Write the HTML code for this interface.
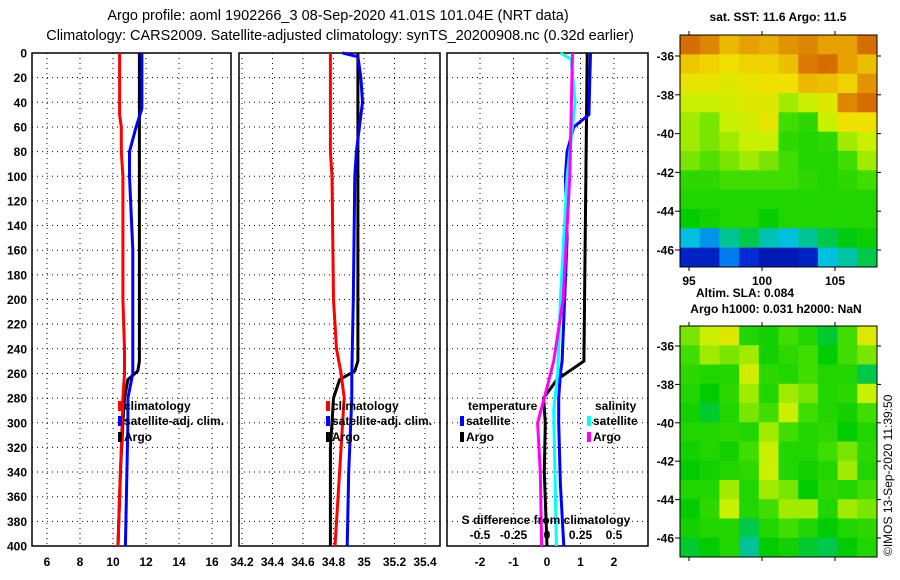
<!DOCTYPE html>
<html><head><meta charset="utf-8"><style>
body{margin:0;background:#fff;width:900px;height:580px;overflow:hidden}
svg{display:block;font-family:"Liberation Sans",sans-serif;font-weight:bold}
</style></head><body>
<svg id="chart" width="900" height="580" viewBox="0 0 900 580">
<text x="338" y="20" font-size="14.5" text-anchor="middle" font-weight="normal">Argo profile: aoml 1902266_3 08-Sep-2020 41.01S 101.04E (NRT data)</text>
<text x="340" y="40" font-size="14.5" text-anchor="middle" font-weight="normal">Climatology: CARS2009. Satellite-adjusted climatology: synTS_20200908.nc (0.32d earlier)</text>
<text x="778" y="21" font-size="12" text-anchor="middle">sat. SST: 11.6 Argo: 11.5</text>
<text x="745" y="297" font-size="12" text-anchor="middle">Altim. SLA: 0.084</text>
<text x="776" y="313" font-size="12" text-anchor="middle">Argo h1000: 0.031 h2000: NaN</text>
<text transform="translate(892,556) rotate(-90)" font-size="12" font-weight="normal">©IMOS 13-Sep-2020 11:39:50</text>
<g id="g"></g>
</svg>
<script>
// ---- data ----
const depthTicks=[0,20,40,60,80,100,120,140,160,180,200,220,240,260,280,300,320,340,360,380,400];
const tTicks=[6,8,10,12,14,16];
const sTicks=[34.2,34.4,34.6,34.8,35,35.2,35.4];
const dTicks=[-2,-1,0,1,2];
const dsTicks=[-0.5,-0.25,0,0.25,0.5];
const dsTickLabels=["-0.5","-0.25","0","0.25","0.5"];
const tClimDepth=[0,50,60,80,100,200,240,260,280,320,360,400];
const tClim=[10.4,10.4,10.5,10.5,10.6,10.6,10.7,10.7,10.6,10.5,10.4,10.3];
const tSatDepth=[0,45,60,80,100,160,260,280,300,400];
const tSat=[11.75,11.75,11.4,11.0,11.0,11.2,11.2,10.9,10.9,10.75];
const tArgoDepth=[0,250,258,265,280,300,340,400];
const tArgo=[11.6,11.6,11.5,10.9,10.7,10.6,10.45,10.3];
const sClimDepth=[0,80,100,200,240,260,280,300,340,400];
const sClim=[34.78,34.78,34.79,34.8,34.82,34.85,34.87,34.86,34.84,34.81];
const sArgoDepth=[0,250,258,265,280,300,320,400];
const sArgo=[34.96,34.96,34.94,34.84,34.8,34.79,34.78,34.78];
const sSatDepth=[0,3,20,40,60,80,100,200,260,280,340,400];
const sSat=[34.86,34.96,34.98,34.99,34.97,34.95,34.94,34.93,34.92,34.92,34.9,34.89];
const dTSatDepth=[0,50,60,80,100,150,250,260,280,300,350,400];
const dTSat=[1.3,1.25,0.8,0.6,0.55,0.6,0.45,0.4,0.35,0.35,0.4,0.5];
const dTArgoDepth=[0,250,265,280,300,340,400];
const dTArgo=[1.2,1.1,0.3,-0.1,-0.05,-0.08,0];
const dSSatDepth=[0,5,40,100,200,260,290,400];
const dSSat=[0.1,0.18,0.21,0.15,0.1,0.08,0.05,0.07];
const dSArgoDepth=[0,100,200,250,280,300,340,400];
const dSArgo=[0.19,0.17,0.12,0.05,-0.02,-0.07,-0.05,-0.04];
const sstLat=[-36,-38,-40,-42,-44,-46];
const lonTicks=[95,100,105];
const sstGrid=[
[0.88,0.84,0.76,0.8,0.78,0.82,0.84,0.8,0.8,0.88],
[0.74,0.72,0.7,0.72,0.72,0.75,0.86,0.88,0.8,0.75],
[0.68,0.68,0.66,0.68,0.7,0.7,0.76,0.75,0.72,0.82],
[0.62,0.62,0.64,0.66,0.66,0.6,0.62,0.66,0.84,0.88],
[0.6,0.58,0.62,0.64,0.68,0.55,0.52,0.62,0.7,0.7],
[0.6,0.58,0.6,0.62,0.62,0.52,0.5,0.52,0.6,0.62],
[0.58,0.56,0.58,0.6,0.58,0.55,0.5,0.5,0.55,0.6],
[0.52,0.52,0.55,0.55,0.55,0.55,0.52,0.5,0.52,0.55],
[0.5,0.5,0.5,0.5,0.5,0.5,0.5,0.5,0.5,0.5],
[0.45,0.48,0.5,0.5,0.46,0.5,0.5,0.5,0.5,0.5],
[0.3,0.25,0.35,0.4,0.33,0.3,0.35,0.4,0.44,0.47],
[0.08,0.08,0.22,0.1,0.06,0.06,0.08,0.3,0.34,0.4]];
const slaGrid=[
[0.58,0.62,0.66,0.5,0.48,0.55,0.5,0.42,0.55,0.66],
[0.55,0.6,0.58,0.6,0.48,0.52,0.55,0.45,0.55,0.58],
[0.52,0.5,0.5,0.64,0.52,0.5,0.55,0.5,0.5,0.4],
[0.5,0.45,0.52,0.6,0.5,0.6,0.58,0.5,0.52,0.62],
[0.48,0.42,0.5,0.58,0.55,0.62,0.55,0.5,0.48,0.55],
[0.5,0.5,0.52,0.5,0.6,0.55,0.5,0.52,0.45,0.5],
[0.48,0.5,0.48,0.55,0.62,0.5,0.5,0.55,0.58,0.52],
[0.45,0.48,0.5,0.52,0.62,0.5,0.48,0.5,0.6,0.5],
[0.5,0.5,0.6,0.5,0.6,0.58,0.45,0.52,0.5,0.55],
[0.45,0.52,0.62,0.5,0.55,0.6,0.6,0.5,0.6,0.58],
[0.48,0.5,0.5,0.4,0.5,0.55,0.5,0.45,0.5,0.52],
[0.42,0.45,0.5,0.35,0.45,0.48,0.42,0.4,0.45,0.5]];
// ---- drawing ----
const NS="http://www.w3.org/2000/svg", G=document.getElementById('g');
function el(t,a,p){const e=document.createElementNS(NS,t);for(const k in a)e.setAttribute(k,a[k]);(p||G).appendChild(e);return e;}
const Y0=53,Y1=546,yS=d=>Y0+d/400*(Y1-Y0);
const panels=[
 {name:'temperature',x0:32,x1:231,xs:v=>47+(v-6)*16.5,ticks:tTicks,labels:tTicks.map(String),yl:true},
 {name:'salinity',x0:239,x1:440,xs:v=>242+(v-34.2)*152.5,ticks:sTicks,labels:sTicks.map(String)},
 {name:'difference',x0:447,x1:648,xs:v=>547+v*33.5,ticks:dTicks,labels:dTicks.map(String)}];
const dsX=v=>547+v*134;
panels.forEach((p,i)=>{
 const gr=el('g',{});
 
 
 depthTicks.forEach(d=>{if(d>0&&d<400){const l=el('line',{x1:p.x0,x2:p.x1,y1:yS(d),y2:yS(d),stroke:'#000','stroke-dasharray':'1,4'},gr);}});
 p.ticks.forEach((t,k)=>{const x=p.xs(t);const l=el('line',{x1:x,x2:x,y1:Y0,y2:Y1,stroke:'#000','stroke-dasharray':'1,4'},gr);
  const tx=el('text',{x:x,y:566,'font-size':12,'text-anchor':'middle'},gr);tx.textContent=p.labels[k];});
 const r=el('rect',{x:p.x0,y:Y0,width:p.x1-p.x0,height:Y1-Y0,fill:'none',stroke:'#000','stroke-width':1.5},gr);
 
 if(p.yl)depthTicks.forEach(d=>{const tx=el('text',{x:27,y:yS(d)+4.5,'font-size':12,'text-anchor':'end'},gr);tx.textContent=d;});
});
function line(xs,vals,depths,col,name){
 const pts=vals.map((v,i)=>xs(v).toFixed(1)+','+yS(depths[i]).toFixed(1)).join(' ');
 const e=el('polyline',{points:pts,fill:'none',stroke:col,'stroke-width':3});
 
}
const P=panels;
line(P[0].xs,tArgo,tArgoDepth,'#000','temp-argo-line');
line(P[0].xs,tClim,tClimDepth,'#f00','temp-climatology-line');
line(P[0].xs,tSat,tSatDepth,'#00f','temp-satellite-line');
line(P[1].xs,sArgo,sArgoDepth,'#000','sal-argo-line');
line(P[1].xs,sClim,sClimDepth,'#f00','sal-climatology-line');
line(P[1].xs,sSat,sSatDepth,'#00f','sal-satellite-line');
line(P[2].xs,dTArgo,dTArgoDepth,'#000','dtemp-argo-line');
line(P[2].xs,dTSat,dTSatDepth,'#00f','dtemp-satellite-line');
line(dsX,dSSat,dSSatDepth,'#0ff','dsal-satellite-line');
line(dsX,dSArgo,dSArgoDepth,'#f0f','dsal-argo-line');
// ds axis labels
const t0=el('text',{x:546,y:524,'font-size':12,'text-anchor':'middle'});t0.textContent='S difference from climatology';

dsTicks.forEach((v,k)=>{const t=el('text',{x:dsX(v),y:539,'font-size':12,'text-anchor':'middle'});t.textContent=dsTickLabels[k];});
// legends
function leg(x,y,col,txt,name){const r=el('rect',{x:x,y:y-9,width:4,height:10,fill:col});
 const t=el('text',{x:x+6,y:y,'font-size':12});t.textContent=txt;}
[[118,''],[326,'s']].forEach(([x,s])=>{leg(x,410,'#f00','climatology','legend-climatology'+s);leg(x,425,'#00f','satellite-adj. clim.','legend-satellite'+s);leg(x,441,'#000','Argo','legend-argo'+s);});
const tt=el('text',{x:468,y:410,'font-size':12});tt.textContent='temperature';
const ts=el('text',{x:595,y:410,'font-size':12});ts.textContent='salinity';
leg(460,425,'#00f','satellite','legend-temp-satellite');leg(460,441,'#000','Argo','legend-temp-argo');
leg(587,425,'#0ff','satellite','legend-sal-satellite');leg(587,441,'#f0f','Argo','legend-sal-argo');
// maps
const stops=[[0,[0,0,128]],[0.15,[0,64,255]],[0.3,[0,192,224]],[0.45,[0,204,0]],[0.55,[64,221,0]],[0.62,[200,240,0]],[0.7,[240,224,0]],[0.8,[232,160,0]],[0.9,[208,96,0]],[1,[176,0,0]]];
function cmap(v){for(let i=1;i<stops.length;i++){if(v<=stops[i][0]){const a=stops[i-1],b=stops[i],f=(v-a[0])/(b[0]-a[0]);return 'rgb('+a[1].map((c,k)=>Math.round(c+(b[1][k]-c)*f)).join(',')+')';}}return 'rgb(176,0,0)';}
function map(grid,x0,y0,x1,y1,name,latY,showLon){
 const rows=grid.length,cols=grid[0].length,cw=(x1-x0)/cols,ch=(y1-y0)/rows;
 grid.forEach((row,r)=>row.forEach((v,c)=>{const e=el('rect',{x:x0+c*cw,y:y0+r*ch,width:cw+0.5,height:ch+0.5,fill:cmap(v)});}));
 const f=el('rect',{x:x0,y:y0,width:x1-x0,height:y1-y0,fill:'none',stroke:'#000'});
 sstLat.forEach(l=>{const y=latY(l);el('line',{x1:x0-5,x2:x0,y1:y,y2:y,stroke:'#000'});el('line',{x1:x1,x2:x1+4,y1:y,y2:y,stroke:'#000'});
  const t=el('text',{x:x0-6,y:y+4.5,'font-size':12,'text-anchor':'end'});t.textContent=l;});
 lonTicks.forEach(l=>{const x=689+(l-95)*14.6;el('line',{x1:x,x2:x,y1:y0-4,y2:y0,stroke:'#000'});el('line',{x1:x,x2:x,y1:y1,y2:y1+4,stroke:'#000'});
  if(showLon){const t=el('text',{x:x,y:y1+18,'font-size':12,'text-anchor':'middle'});t.textContent=l;}});
}
map(sstGrid,680,35,877,267,'sst-map',l=>56+(-36-l)*19.4,true);
map(slaGrid,680,326,877,557,'sla-map',l=>346+(-36-l)*19.2,false);
</script>
</body></html>
